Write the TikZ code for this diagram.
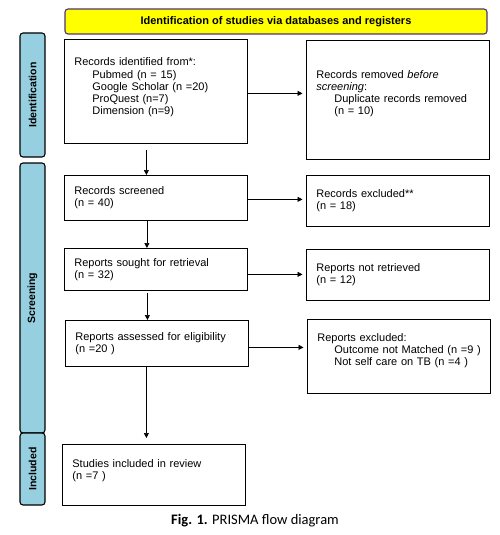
\documentclass[tikz,border=0pt]{standalone}
\usepackage{fontspec}
\setmainfont{Liberation Sans}
\newfontfamily\capfont{Carlito}
\usetikzlibrary{arrows.meta,positioning,shadows}
\definecolor{prblue}{RGB}{150,208,224}
\definecolor{pryellow}{RGB}{255,255,0}
\definecolor{prpurple}{RGB}{80,50,120}

\tikzset{
  recbox/.style={draw, fill=white, line width=0.8pt, anchor=north west,
    drop shadow={shadow xshift=0.9pt, shadow yshift=-0.9pt, opacity=1, fill=black},
    align=left, inner xsep=10pt, minimum width=183pt, text width=163pt,
    font=\fontsize{11}{12.2}\selectfont},
  sidebar/.style={draw, fill=prblue, line width=1.1pt, rounded corners=3pt,
    rotate=90, minimum height=25pt, inner sep=0pt,
    font=\bfseries\fontsize{10.5}{12}\selectfont},
  headbar/.style={draw=prpurple, fill=pryellow, line width=1.1pt, rounded corners=3pt,
    minimum width=422pt, minimum height=25pt, font=\bfseries\fontsize{11}{12}\selectfont},
  arr/.style={-{Triangle[length=5pt,width=5pt]}, line width=0.7pt}
}

\begin{document}
\begin{tikzpicture}[x=1pt, y=-1pt]
  \useasboundingbox (0,0) rectangle (499,535);
  % header and side bars
  \node[headbar] (head) at (276,21.5) {Identification of studies via databases and registers};
  \node[sidebar, minimum width=124pt] (idbar) at (32.5,95) {Identification};
  \node[sidebar, minimum width=270pt] (scbar) at (32.5,298) {Screening};
  \node[sidebar, minimum width=72pt] (inbar) at (32.5,469) {Included};
  % left column
  \node[recbox, minimum height=104pt, text depth=59pt] (ident) at (64,39)
    {Records identified from*:\\
     \hspace*{18pt}Pubmed (n = 15)\\
     \hspace*{18pt}Google Scholar (n =20)\\
     \hspace*{18pt}ProQuest (n=7)\\
     \hspace*{18pt}Dimension (n=9)};
  \node[recbox, minimum height=45pt] (screened) at (64,175) {Records screened\\(n = 40)};
  \node[recbox, minimum height=42pt] (sought) at (64,248) {Reports sought for retrieval\\(n = 32)};
  \node[recbox, minimum height=46pt] (assessed) at (65,320) {Reports assessed for eligibility\\(n =20 )};
  \node[recbox, minimum height=61pt, text depth=23.5pt] (included) at (62,444) {Studies included in review\\(n =7 )};
  % right column
  \node[recbox, minimum height=119pt, text depth=51pt] (removed) at (306,40)
    {Records removed \textit{before}\\
     \textit{screening}:\\
     \hspace*{18pt}Duplicate records removed\\
     \hspace*{18pt}(n = 10)};
  \node[recbox, minimum height=51pt] (excluded) at (306,175) {Records excluded**\\(n = 18)};
  \node[recbox, minimum height=51pt] (notret) at (306,249) {Reports not retrieved\\(n = 12)};
  \node[recbox, minimum height=74pt, text depth=38.7pt] (repexcl) at (307,319)
    {Reports excluded:\\
     \hspace*{17pt}\mbox{Outcome not Matched (n =9 )}\\
     \hspace*{17pt}Not self care on TB (n =4 )};
  % arrows down
  \draw[arr, shorten <=6pt] ([xshift=-9.5pt]ident.south) -- ([xshift=-9.5pt]ident.south |- screened.north);
  \draw[arr] ([xshift=-9pt]screened.south) -- ([xshift=-9pt]screened.south |- sought.north);
  \draw[arr, shorten <=2pt] ([xshift=-8.5pt]sought.south) -- ([xshift=-8.5pt]sought.south |- assessed.north);
  \draw[arr, shorten >=6pt] ([xshift=-10.5pt]assessed.south) -- ([xshift=-10.5pt]assessed.south |- included.north);
  % arrows right
  \draw[arr, shorten >=3.5pt] ([yshift=-2pt]ident.east) -- ([yshift=-2pt]ident.east -| removed.west);
  \draw[arr, shorten >=3.5pt] ([yshift=-1.5pt]screened.east) -- ([yshift=-1.5pt]screened.east -| excluded.west);
  \draw[arr, shorten >=3.5pt] ([yshift=-5pt]sought.east) -- ([yshift=-5pt]sought.east -| notret.west);
  \draw[arr, shorten >=3.5pt] ([yshift=-4pt]assessed.east) -- ([yshift=-4pt]assessed.east -| repexcl.west);
  % caption
  \node[font=\capfont\fontsize{14.5}{17}\selectfont] (cap) at (255,521) {\textbf{Fig. 1.} PRISMA flow diagram};
\end{tikzpicture}
\end{document}
